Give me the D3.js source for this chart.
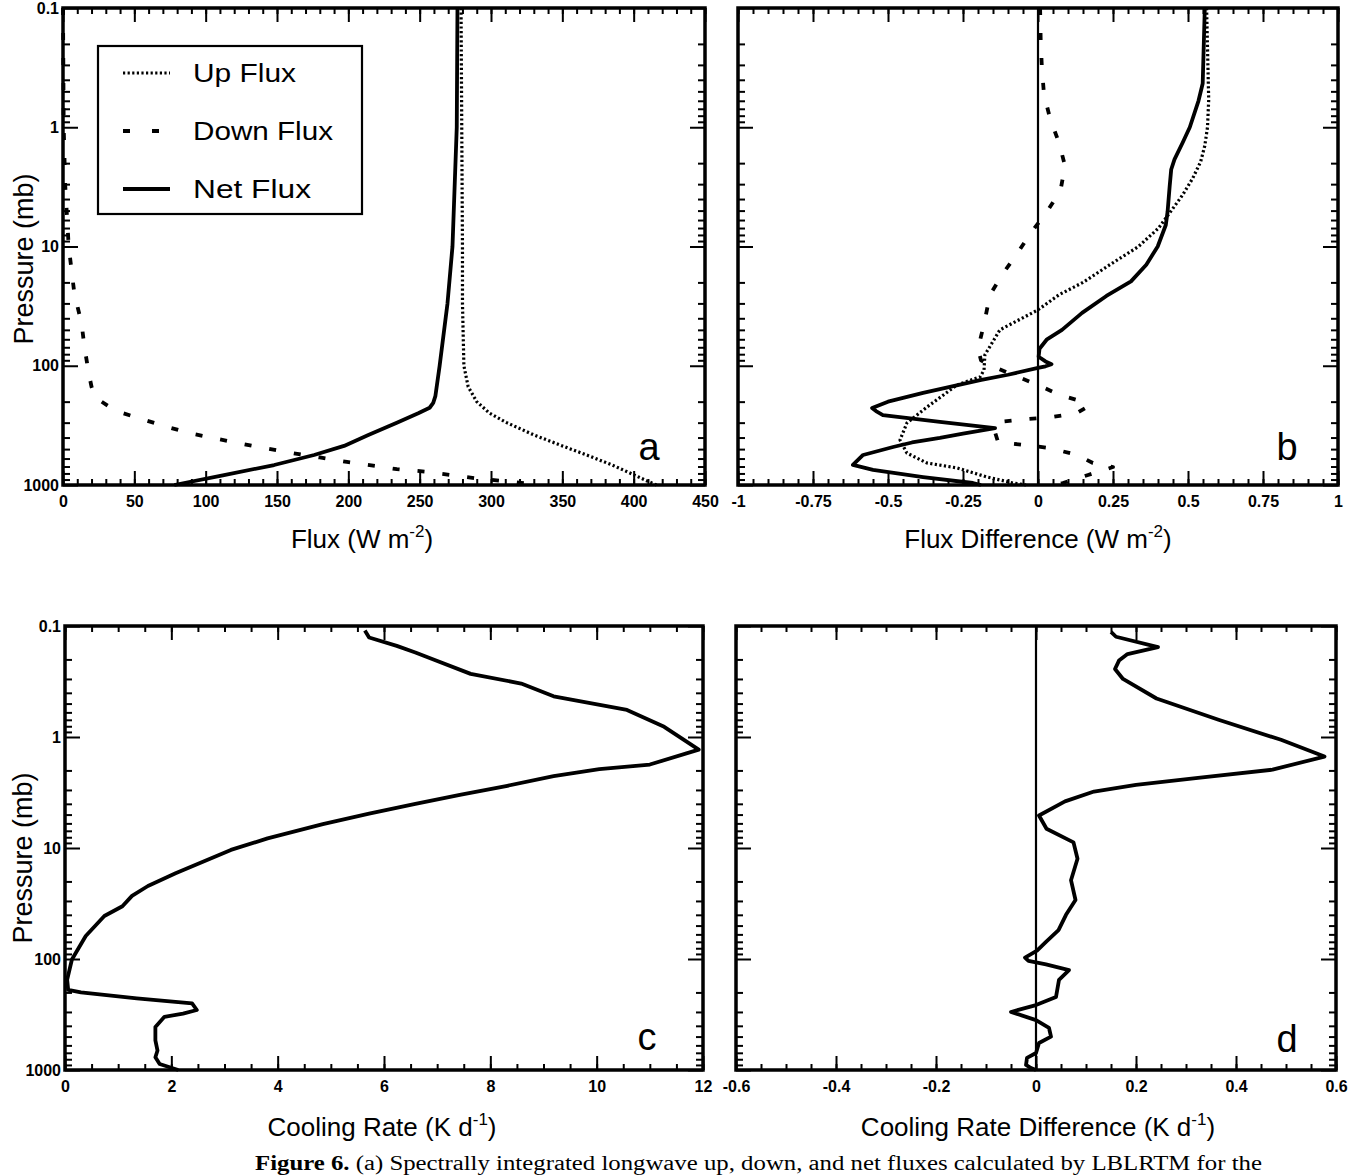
<!DOCTYPE html>
<html><head><meta charset="utf-8">
<script src="https://cdn.jsdelivr.net/npm/d3@7"></script>
<style>
body{margin:0;background:#fff;}
svg text{font-family:"Liberation Sans",Arial,Helvetica,sans-serif;fill:#000;}
</style></head>
<body><svg id="chart" width="1350" height="1176"></svg>
<script>
// ---------- tick labels ----------
const yTickVals = [0.1, 1, 10, 100, 1000];
const yTickLabels = ["0.1", "1", "10", "100", "1000"];
const xTicksA = [0, 50, 100, 150, 200, 250, 300, 350, 400, 450];
const xTicksB = [-1, -0.75, -0.5, -0.25, 0, 0.25, 0.5, 0.75, 1];
const xTicksC = [0, 2, 4, 6, 8, 10, 12];
const xTicksD = [-0.6, -0.4, -0.2, 0, 0.2, 0.4, 0.6];
const legendLabels = ["Up Flux", "Down Flux", "Net Flux"];

// ---------- panel a : fluxes (W m-2) vs pressure (mb) ----------
const upP   = [0.1, 1, 10, 30, 100, 150, 200, 250, 300, 380, 460, 560, 680, 820, 920, 1000];
const upV   = [279, 279.5, 280, 280, 281, 284, 290, 299, 311, 330, 348, 367, 385, 400, 409, 416];
const downP = [0.1, 1, 3, 10, 25, 44, 69, 115, 150, 185, 239, 280, 328, 373, 410, 451, 497, 546, 588, 641, 736, 773, 880, 950, 1000];
const downV = [0, 0.5, 1.5, 4, 8, 13, 15, 18, 20, 22.7, 37, 55, 74, 91, 108, 125, 144, 163, 180, 199, 234, 254, 290, 318, 335];
const netP  = [0.1, 1, 10, 30, 100, 180, 205, 225, 250, 300, 380, 470, 560, 680, 830, 1000];
const netV  = [276.5, 276, 273, 269.5, 264, 261, 259.5, 257, 249, 234, 214, 197, 176, 148, 112, 78];

// ---------- panel b : flux differences (W m-2) ----------
const upDiffP   = [0.1, 0.59, 1, 1.43, 1.95, 2.7, 3.7, 5.1, 7, 10, 14.2, 20, 25.4, 34, 50, 81, 109, 124, 145, 222, 302, 420, 540, 654, 719, 857, 962, 1000];
const upDiffV   = [0.562, 0.569, 0.565, 0.556, 0.542, 0.515, 0.482, 0.442, 0.402, 0.335, 0.24, 0.15, 0.07, 0, -0.127, -0.177, -0.18, -0.193, -0.27, -0.37, -0.437, -0.46, -0.437, -0.37, -0.27, -0.17, -0.083, -0.04];
const downDiffP = [0.1, 0.19, 0.32, 0.53, 0.84, 1.35, 2.1, 3.4, 5.1, 7.7, 11.5, 17.3, 25.4, 44.7, 72, 90, 99, 120, 145, 176, 205, 225, 249, 269, 280, 296, 350, 437, 462, 490, 560, 654, 707, 824, 962, 1000];
const downDiffV = [0.007, 0.009, 0.013, 0.02, 0.04, 0.07, 0.09, 0.075, 0.03, -0.024, -0.07, -0.12, -0.16, -0.18, -0.2, -0.19, -0.16, -0.08, 0, 0.073, 0.163, 0.16, 0.13, 0.047, -0.037, -0.127, -0.145, -0.133, -0.043, 0.04, 0.13, 0.183, 0.25, 0.167, 0.083, 0.06];
const netDiffP  = [0.1, 0.43, 0.6, 1, 1.35, 1.86, 2.26, 3.1, 5.1, 6.6, 10, 14.2, 19.6, 26, 36, 50, 60, 72, 84, 92, 97, 101, 104, 119, 132, 169, 200, 226, 240, 259, 296, 333, 370, 403, 440, 480, 560, 679, 748, 857, 962, 1000];
const netDiffV  = [0.556, 0.549, 0.535, 0.506, 0.482, 0.455, 0.444, 0.439, 0.432, 0.426, 0.399, 0.361, 0.31, 0.228, 0.147, 0.08, 0.03, 0.005, 0.002, 0.025, 0.045, 0.025, 0, -0.1, -0.193, -0.383, -0.5, -0.553, -0.54, -0.517, -0.327, -0.143, -0.25, -0.327, -0.42, -0.483, -0.583, -0.617, -0.55, -0.383, -0.217, -0.19];

// ---------- panel c : cooling rate (K d-1) ----------
const coolP = [0.11, 0.127, 0.151, 0.173, 0.2, 0.27, 0.33, 0.43, 0.57, 0.81, 1.3, 1.77, 1.95, 2.25, 2.75, 3.3, 4.0, 4.9, 6.1, 8.2, 10.4, 16.9, 22, 27, 33.5, 41, 62, 101, 154, 190, 200, 226, 251, 288, 310, 332, 409, 541, 668, 768, 884, 1000];
const coolV = [5.64, 5.72, 6.24, 6.59, 6.93, 7.63, 8.58, 9.19, 10.57, 11.27, 11.92, 11.0, 10.05, 9.19, 8.32, 7.45, 6.59, 5.72, 4.85, 3.81, 3.12, 2.08, 1.56, 1.26, 1.08, 0.74, 0.39, 0.13, 0.04, 0.06, 0.3, 1.35, 2.39, 2.48, 2.22, 1.87, 1.7, 1.7, 1.74, 1.7, 1.78, 2.13];

// ---------- panel d : cooling rate difference (K d-1) ----------
const coolDiffP = [0.113, 0.125, 0.155, 0.179, 0.205, 0.244, 0.3, 0.45, 0.7, 1.06, 1.5, 1.97, 2.34, 2.7, 3.1, 3.8, 5.1, 6.7, 8.9, 12.5, 19.5, 29.4, 40, 55, 70, 84, 97, 104, 112, 126, 154, 220, 260, 300, 355, 418, 500, 571, 703, 778, 900, 960, 1000];
const coolDiffV = [0.15, 0.16, 0.244, 0.183, 0.166, 0.158, 0.174, 0.241, 0.365, 0.49, 0.577, 0.473, 0.324, 0.2, 0.116, 0.058, 0.006, 0.021, 0.075, 0.083, 0.07, 0.079, 0.06, 0.045, 0.02, 0.002, -0.022, -0.015, 0.02, 0.066, 0.046, 0.04, 0, -0.05, 0, 0.026, 0.03, 0.006, 0, -0.018, -0.02, -0.01, 0];

// ---------- drawing ----------
const svg = d3.select("#chart");
const STYLE = {
  solid:  {w: 3.8, dash: null},
  dotted: {w: 3.2, dash: "2.2,2.4"},
  dashed: {w: 3.8, dash: "7,18"}
};

function styleAxis(sel, size) {
  sel.attr("font-family", null).attr("font-size", null);
  sel.select(".domain").remove();
  sel.selectAll(".tick line").attr("stroke", "#000").attr("stroke-width", 2);
  sel.selectAll(".tick text").attr("fill", "#000").attr("font-size", size)
     .attr("font-weight", "bold");
}

function drawPanel(c) {
  const x = d3.scaleLinear().domain(c.xDomain).range([c.left, c.right]);
  const y = d3.scaleLog().domain([0.1, 1000]).range([c.top, c.bottom]);
  const g = svg.append("g");

  const yMinor = [];
  for (let e = -1; e < 3; e++) for (let k = 2; k <= 9; k++) yMinor.push(+(k * Math.pow(10, e)).toPrecision(3));
  const xMinor = d3.range(c.xDomain[0], c.xDomain[1] + c.xMinor / 2, c.xMinor).map(v => +v.toFixed(4));

  // left
  g.append("g").attr("transform", `translate(${c.left},0)`)
    .call(d3.axisLeft(y).tickValues(yMinor).tickSize(-7).tickFormat("")).call(s => styleAxis(s, 16));
  const gl = g.append("g").attr("transform", `translate(${c.left},0)`)
    .call(d3.axisLeft(y).tickValues(yTickVals).tickSize(-15).tickPadding(4)
      .tickFormat((d, i) => c.yLabels ? yTickLabels[i] : ""));
  styleAxis(gl, 16);
  // right
  g.append("g").attr("transform", `translate(${c.right},0)`)
    .call(d3.axisRight(y).tickValues(yMinor).tickSize(-7).tickFormat("")).call(s => styleAxis(s, 16));
  g.append("g").attr("transform", `translate(${c.right},0)`)
    .call(d3.axisRight(y).tickValues(yTickVals).tickSize(-15).tickFormat("")).call(s => styleAxis(s, 16));
  // bottom
  g.append("g").attr("transform", `translate(0,${c.bottom})`)
    .call(d3.axisBottom(x).tickValues(xMinor).tickSize(-6).tickFormat("")).call(s => styleAxis(s, 16));
  const gb = g.append("g").attr("transform", `translate(0,${c.bottom})`)
    .call(d3.axisBottom(x).tickValues(c.xTicks).tickSize(-14).tickPadding(11).tickFormat(d => String(d)));
  styleAxis(gb, 16);
  // top
  g.append("g").attr("transform", `translate(0,${c.top})`)
    .call(d3.axisTop(x).tickValues(xMinor).tickSize(-6).tickFormat("")).call(s => styleAxis(s, 16));
  g.append("g").attr("transform", `translate(0,${c.top})`)
    .call(d3.axisTop(x).tickValues(c.xTicks).tickSize(-14).tickFormat("")).call(s => styleAxis(s, 16));

  if (c.zeroLine) {
    g.append("line").attr("x1", x(0)).attr("x2", x(0)).attr("y1", c.top).attr("y2", c.bottom)
      .attr("stroke", "#000").attr("stroke-width", 2.2);
  }

  const line = d3.line().x(d => x(d[1])).y(d => y(d[0]));
  c.series.forEach(s => {
    const st = STYLE[s.style];
    g.append("path").datum(d3.zip(s.p, s.v)).attr("d", line)
      .attr("fill", "none").attr("stroke", "#000").attr("stroke-width", st.w)
      .attr("stroke-linejoin", "round")
      .attr("stroke-dasharray", st.dash);
  });

  g.append("rect").attr("x", c.left).attr("y", c.top)
    .attr("width", c.right - c.left).attr("height", c.bottom - c.top)
    .attr("fill", "none").attr("stroke", "#000").attr("stroke-width", 3.5);

  const t = g.append("text").attr("x", c.titleX).attr("y", c.titleY)
    .attr("text-anchor", "middle").attr("font-size", 26);
  t.append("tspan").text(c.title[0]);
  t.append("tspan").attr("dy", -11).attr("font-size", 17).text(c.title[1]);
  t.append("tspan").attr("dy", 11).text(c.title[2]);

  if (c.yTitle) {
    g.append("text").attr("transform", `translate(${c.yTitleX},${c.yTitleY}) rotate(-90)`)
      .attr("text-anchor", "middle").attr("font-size", 27).text("Pressure (mb)");
  }
  g.append("text").attr("x", c.letterX).attr("y", c.letterY).attr("text-anchor", "middle")
    .attr("font-size", 38).text(c.letter);
  return {x, y, g};
}

drawPanel({
  left: 63, right: 705, top: 8, bottom: 485, xDomain: [0, 450], xTicks: xTicksA, xMinor: 10,
  yLabels: true, yTitle: true, yTitleX: 33, yTitleY: 259,
  title: ["Flux (W m", "-2", ")"], titleX: 362, titleY: 548,
  letter: "a", letterX: 649, letterY: 460,
  series: [
    {p: upP, v: upV, style: "dotted"},
    {p: downP, v: downV, style: "dashed"},
    {p: netP, v: netV, style: "solid"}
  ]
});

drawPanel({
  left: 738, right: 1338, top: 8, bottom: 485, xDomain: [-1, 1], xTicks: xTicksB, xMinor: 0.05,
  yLabels: false, yTitle: false, zeroLine: true,
  title: ["Flux Difference (W m", "-2", ")"], titleX: 1038, titleY: 548,
  letter: "b", letterX: 1287, letterY: 460,
  series: [
    {p: upDiffP, v: upDiffV, style: "dotted"},
    {p: downDiffP, v: downDiffV, style: "dashed"},
    {p: netDiffP, v: netDiffV, style: "solid"}
  ]
});

drawPanel({
  left: 65, right: 703, top: 626, bottom: 1070, xDomain: [0, 12], xTicks: xTicksC, xMinor: 0.5,
  yLabels: true, yTitle: true, yTitleX: 32, yTitleY: 858,
  title: ["Cooling Rate (K d", "-1", ")"], titleX: 382, titleY: 1136,
  letter: "c", letterX: 647, letterY: 1050,
  series: [{p: coolP, v: coolV, style: "solid"}]
});

drawPanel({
  left: 736, right: 1336, top: 626, bottom: 1070, xDomain: [-0.6, 0.6], xTicks: xTicksD, xMinor: 0.05,
  yLabels: false, yTitle: false, zeroLine: true,
  title: ["Cooling Rate Difference (K d", "-1", ")"], titleX: 1038, titleY: 1136,
  letter: "d", letterX: 1287, letterY: 1052,
  series: [{p: coolDiffP, v: coolDiffV, style: "solid"}]
});

// legend (panel a)
const lg = svg.append("g");
lg.append("rect").attr("x", 98).attr("y", 46).attr("width", 264).attr("height", 168)
  .attr("fill", "#fff").attr("stroke", "#000").attr("stroke-width", 2.2);
const legStyles = ["dotted", "dashed", "solid"];
const legY = [73, 131, 189];
const legTextLen = [103, 140, 118];
legendLabels.forEach((lab, i) => {
  const st = STYLE[legStyles[i]];
  lg.append("line").attr("x1", 123).attr("x2", 170).attr("y1", legY[i]).attr("y2", legY[i])
    .attr("stroke", "#000").attr("stroke-width", st.w)
    .attr("stroke-dasharray", legStyles[i] === "dashed" ? "7,22" : st.dash);
  lg.append("text").attr("x", 193).attr("y", legY[i] + 9).attr("font-size", 25)
    .attr("textLength", legTextLen[i]).attr("lengthAdjust", "spacingAndGlyphs").text(lab);
});

// caption
const cap = svg.append("text").attr("x", 255).attr("y", 1170)
  .attr("font-size", 20).style("font-family", "'Liberation Serif','Times New Roman',serif")
  .attr("textLength", 1007).attr("lengthAdjust", "spacingAndGlyphs");
cap.append("tspan").attr("font-weight", "bold").text("Figure 6.");
cap.append("tspan").text("  (a) Spectrally integrated longwave up, down, and net fluxes calculated by LBLRTM for the");
</script>
</body></html>
